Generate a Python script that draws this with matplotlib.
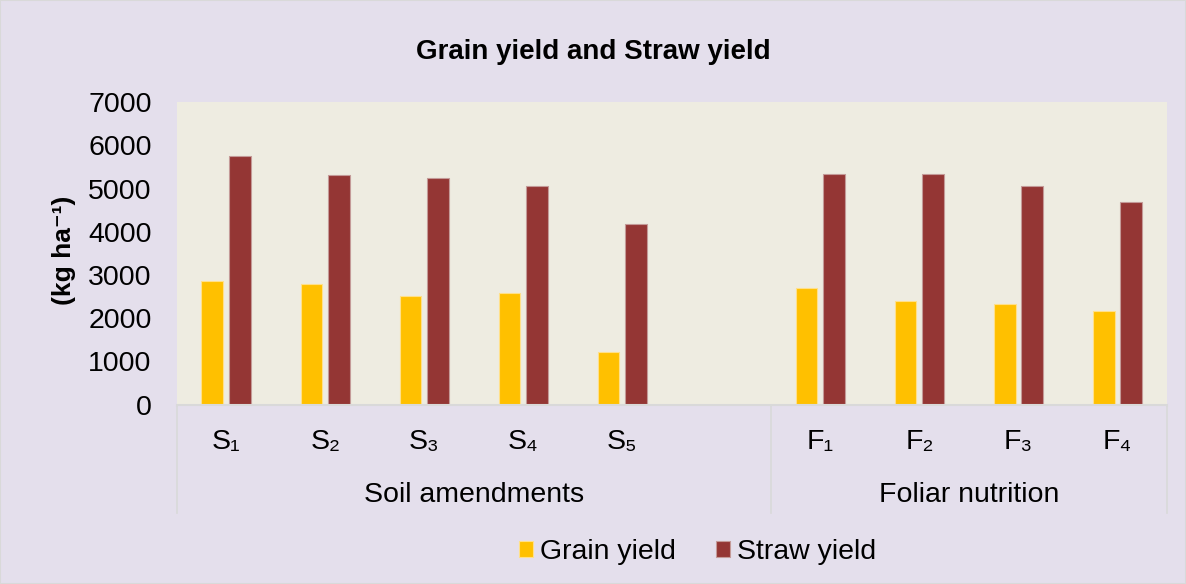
import matplotlib
matplotlib.use("Agg")
import matplotlib.pyplot as plt
from matplotlib.patches import Rectangle
import numpy as np

plt.rcParams['font.family'] = ['Liberation Sans', 'DejaVu Sans']

categories = ["S₁", "S₂", "S₃", "S₄", "S₅", "", "F₁", "F₂", "F₃", "F₄"]
groups = ["Soil amendments", "Foliar nutrition"]
group_spans = [(0, 5), (6, 9)]
grain = [2870, 2800, 2525, 2590, 1220, np.nan, 2700, 2400, 2325, 2170]
straw = [5750, 5305, 5235, 5060, 4180, np.nan, 5350, 5335, 5050, 4680]
yticks = [0, 1000, 2000, 3000, 4000, 5000, 6000, 7000]

bg = "#E4DFEC"
plot_bg = "#EEECE1"
c_grain = "#FFC000"
c_straw = "#943634"
grid_c = "#D9D9D9"
FS = 20.5

fig = plt.figure(figsize=(11.86, 5.84), dpi=100, facecolor=bg)
fig.patches.append(Rectangle((0, 0), 1, 1, transform=fig.transFigure, fill=False,
                             edgecolor=grid_c, linewidth=1.5))
ax = fig.add_axes([0.149, 0.307, 0.835, 0.518])
ax.set_facecolor(plot_bg)

x = np.arange(len(categories))
w = 0.22
off = 0.14
ax.bar(x - off, grain, w, color=c_grain, edgecolor="#FFE08A", linewidth=0.8, label="Grain yield")
ax.bar(x + off, straw, w, color=c_straw, edgecolor="#C49A98", linewidth=0.8, label="Straw yield")

ax.set_xlim(-0.5, len(categories) - 0.5)
ax.set_ylim(0, 7000)
ax.set_yticks(yticks)
ax.set_yticklabels([str(v) for v in yticks], fontsize=FS)
ax.tick_params(axis='y', length=0, pad=18)
ax.set_xticks([])
for s in ["top", "right", "left"]:
    ax.spines[s].set_visible(False)
ax.spines["bottom"].set_color(grid_c)
ax.spines["bottom"].set_linewidth(1.5)

trans = ax.get_xaxis_transform()
for xi, lab in zip(x, categories):
    if lab:
        ax.text(xi, -0.123, lab, transform=trans, ha="center", va="center", fontsize=FS)
for (a, b), g in zip(group_spans, groups):
    ax.text((a + b) / 2, -0.298, g, transform=trans, ha="center", va="center", fontsize=FS)
for sx in [-0.5, 5.5, 9.5]:
    ax.plot([sx, sx], [0, -0.358], transform=trans, color=grid_c, linewidth=1.2, clip_on=False)

fig.text(0.5, 0.911, "Grain yield and Straw yield", ha="center", va="center",
         fontsize=20, fontweight="bold")
fig.text(0.054, 0.572, "(kg ha⁻¹)", ha="center", va="center", rotation=90,
         fontsize=19, fontweight="bold")

fig.legend(loc="center", bbox_to_anchor=(0.588, 0.055), ncol=2, frameon=False,
           fontsize=FS, handlelength=0.5, handleheight=0.5, handletextpad=0.25, columnspacing=1.4)

fig.savefig("out.png", dpi=100, facecolor=bg)
